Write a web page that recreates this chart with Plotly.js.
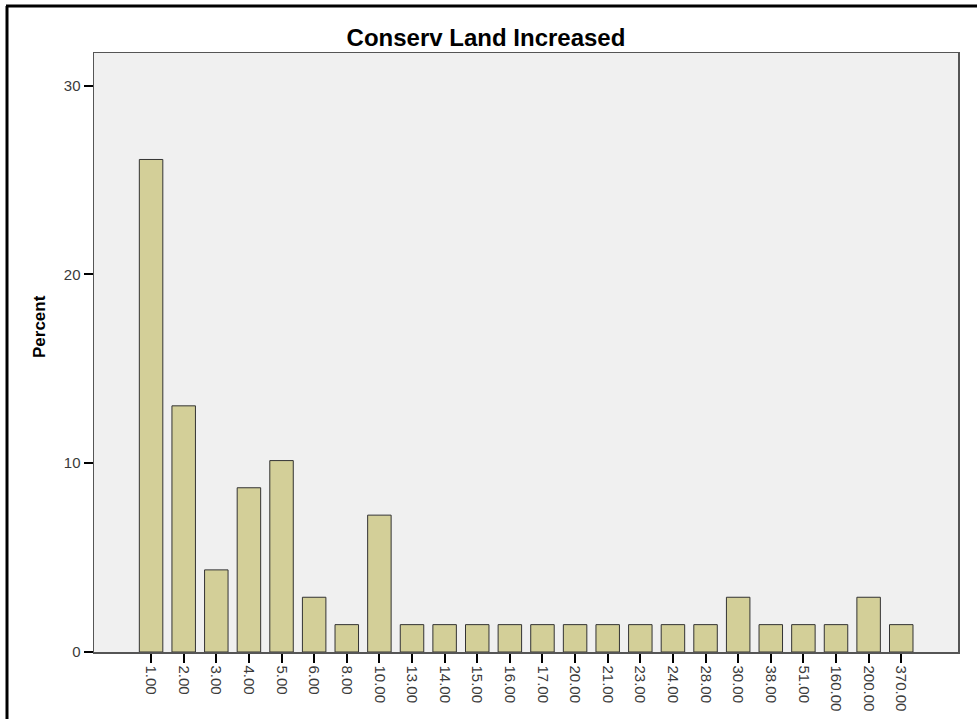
<!DOCTYPE html>
<html>
<head>
<meta charset="utf-8">
<script src="https://cdn.plot.ly/plotly-3.0.1.min.js"></script>
<style>
html,body{margin:0;padding:0;background:#fff;}
#chart{width:977px;height:719px;}
</style>
</head>
<body>
<div id="chart"></div>
<script>
const categories = ["1.00","2.00","3.00","4.00","5.00","6.00","8.00","10.00","13.00","14.00","15.00","16.00","17.00","20.00","21.00","23.00","24.00","28.00","30.00","38.00","51.00","160.00","200.00","370.00"];
const percents = [26.09,13.04,4.35,8.70,10.14,2.90,1.45,7.25,1.45,1.45,1.45,1.45,1.45,1.45,1.45,1.45,1.45,1.45,2.90,1.45,1.45,1.45,2.90,1.45];
const yTicks = [0,10,20,30];
const titleText = "Conserv Land Increased";
const yTitle = "Percent";

const trace = {
  type: "bar",
  x: categories,
  y: percents,
  marker: {color: "#d3cf98", line: {color: "#333333", width: 1}},
  hoverinfo: "x+y"
};

const L = 94, R = 19, T = 53, B = 67;
const W = 977, H = 719;
const pw = W - L - R, ph = H - T - B;
const px = v => (v - L) / pw;
const py = v => (H - B - v) / ph;
const tickFont = {family: "Liberation Sans, Arial, sans-serif", size: 15, color: "#3a3a3a"};

const layout = {
  width: W, height: H,
  margin: {l: L, r: R, t: T, b: B},
  paper_bgcolor: "#ffffff",
  plot_bgcolor: "#f0f0f0",
  bargap: 0.28,
  showlegend: false,
  font: {family: "Liberation Sans, Arial, sans-serif", color: "#333333", size: 12},
  title: {
    text: "<b>" + titleText + "</b>",
    x: 486 / W, xref: "container", xanchor: "center",
    y: 1 - 38 / H, yref: "container", yanchor: "middle",
    font: {family: "Liberation Sans, Arial, sans-serif", size: 24, color: "#000000"}
  },
  xaxis: {
    type: "category",
    range: [-1.75, categories.length - 1 + 1.74],
    showline: true, linecolor: "#555555", linewidth: 1.5, mirror: true,
    ticks: "outside", ticklen: 9, tickwidth: 2, tickcolor: "#000000",
    tickangle: 90,
    tickfont: tickFont,
    showgrid: false, zeroline: false, fixedrange: true
  },
  yaxis: {
    range: [0, 31.73],
    tickvals: yTicks,
    ticktext: yTicks.map(String),
    showline: true, linecolor: "#555555", linewidth: 1.5, mirror: true,
    ticks: "outside", ticklen: 9, tickwidth: 2, tickcolor: "#000000",
    tickfont: tickFont,
    showgrid: false, zeroline: false, fixedrange: true
  },
  annotations: [
    {text: "<b>" + yTitle + "</b>", xref: "paper", yref: "paper", x: px(40), y: py(327),
     xanchor: "center", yanchor: "middle", textangle: -90, showarrow: false,
     font: {family: "Liberation Sans, Arial, sans-serif", size: 17, color: "#000000"}}
  ],
  shapes: [
    {type: "line", xref: "paper", yref: "paper", x0: px(7), x1: px(7), y0: py(6), y1: py(730), line: {color: "#000000", width: 3}},
    {type: "line", xref: "paper", yref: "paper", x0: px(6), x1: px(990), y0: py(6), y1: py(6), line: {color: "#000000", width: 3}}
  ]
};

Plotly.newPlot("chart", [trace], layout, {displayModeBar: false, staticPlot: true});
</script>
</body>
</html>
